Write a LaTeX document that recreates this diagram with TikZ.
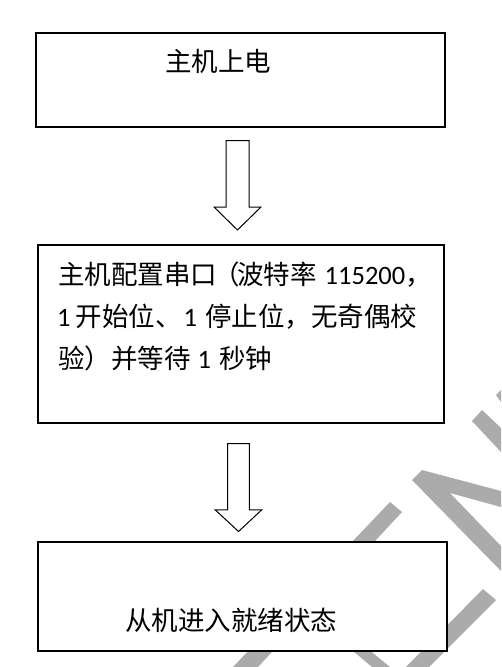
\documentclass[tikz,border=0pt]{standalone}
\usepackage{fontspec}
\setmainfont{Carlito}
\newfontfamily\cjk{Noto Sans CJK SC}
\usetikzlibrary{calc}
\tikzset{
  box/.style={draw=black, line width=2pt, fill=white, anchor=north west, inner sep=0pt},
  txt/.style={anchor=base west, inner sep=0pt, font=\fontsize{26.5pt}{32pt}\selectfont},
  blockarrow/.style={draw=black, line width=1pt, fill=white, line join=miter},
  wm/.style={fill=black!33, draw=none},
}
\newcommand\hollowarrow[5]{%
  \draw[blockarrow] let \p1=(#1), \p2=(#2) in
    (\x1-#3,\y1) -- (\x1+#3,\y1) -- (\x1+#3,\y2+#5) -- (\x1+#4,\y2+#5)
    -- (\x1,\y2) -- (\x1-#4,\y2+#5) -- (\x1-#3,\y2+#5) -- cycle;}
\begin{document}
\begin{tikzpicture}[x=1pt,y=-1pt]
\fill[white] (0,0) rectangle (501,667);
\useasboundingbox (0,0) rectangle (501,667);
% watermark bands
\fill[wm] (472,421) -- (482,410) -- (501,428) -- (501,452) -- cycle;
\fill[wm] (496,395) -- (501,390) -- (501,402) -- cycle;
\fill[wm] (412,480) -- (422,470) -- (501,491) -- (501,507) -- (450,493) -- (501,546) -- (501,571) -- cycle;
\fill[wm] (390,502) -- (402,512) -- (258,667) -- (233,667) -- cycle;
\fill[wm] (340,640) -- (357,640) -- (390,667) -- (372,667) -- cycle;
\fill[wm] (483,589) -- (496,600) -- (429,667) -- (406,667) -- cycle;
% boxes
\node[box, minimum width=409pt, minimum height=94pt] (b1) at (34.5,31.5) {};
\node[box, minimum width=406pt, minimum height=178pt] (b2) at (36.5,244) {};
\node[box, minimum width=409pt, minimum height=109pt] (b3) at (36.5,540.5) {};
% texts
\node[txt] (t1) at (165,71.5) {\cjk 主机上电};
\node[txt] (t2a) at (58,284) {{\cjk 主机配置串口}\hspace{-3.5pt}{\cjk （}\hspace{-3pt}{\cjk 波特率}\hspace{8pt}115200{\cjk ，}};
\node[txt] (t2b) at (57,326) {1\hspace{5pt}{\cjk 开始位、}\hspace{2pt}1\hspace{8pt}{\cjk 停止位，无奇偶校}};
\node[txt] (t2c) at (58,368) {{\cjk 验）并等待}\hspace{7pt}1\hspace{8pt}{\cjk 秒钟}};
\node[txt] (t3) at (125,630) {\cjk 从机进入就绪状态};
% arrows
\coordinate (a1top) at ($(b1.south)+(-2.5,13)$);
\coordinate (a1tip) at ($(b2.north)+(-2.5,-14)$);
\coordinate (a2top) at ($(b2.south)+(-2,19.7)$);
\coordinate (a2tip) at ($(b3.north)+(-3,-9)$);
\hollowarrow{a1top}{a1tip}{11.5pt}{23.5pt}{23pt}
\hollowarrow{a2top}{a2tip}{10.8pt}{23.3pt}{21.7pt}
\end{tikzpicture}
\end{document}
